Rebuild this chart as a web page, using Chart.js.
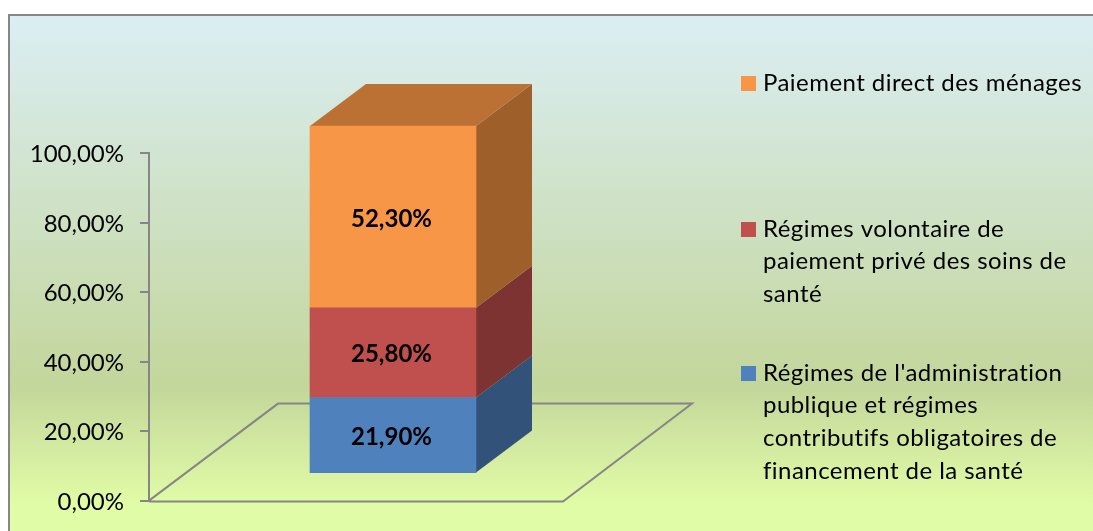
<!DOCTYPE html>
<html lang="fr">
<head>
<meta charset="utf-8">
<title>Financement de la santé</title>
<script src="https://cdn.jsdelivr.net/npm/chart.js@4"></script>
<style>
  html, body { margin: 0; background: #fff; overflow: hidden; }
  canvas { display: block; }
</style>
</head>
<body>
<canvas id="chart" width="1093" height="531"></canvas>
<script>
const categories = ['Financement'];
const blueValues   = [21.9];
const redValues    = [25.8];
const orangeValues = [52.3];
const blueName   = ["Régimes de l'administration", 'publique et régimes', 'contributifs obligatoires de', 'financement de la santé'];
const redName    = ['Régimes volontaire de', 'paiement privé des soins de', 'santé'];
const orangeName = ['Paiement direct des ménages'];

const FONT = 'Lato, Carlito, sans-serif';
const AXIS = '#868686';
const DEPTH_X = 56, DEPTH_Y = 42;   // depth of the 3D box
const LIFT = 27;                    // box stands inside the floor, not on its front edge

const fmt = v => v.toFixed(2).replace('.', ',') + '%';

function poly(ctx, pts, fill) {
  ctx.beginPath();
  pts.forEach((p, i) => i ? ctx.lineTo(p[0], p[1]) : ctx.moveTo(p[0], p[1]));
  ctx.closePath();
  ctx.fillStyle = fill;
  ctx.fill();
}

// ── Card background ───────────────────────────────────────────────────────────
const cardPlugin = {
  id: 'card',
  beforeDraw(chart) {
    const { ctx, width, height } = chart;
    const g = ctx.createLinearGradient(0, 15, 0, 505);
    g.addColorStop(0, '#dbeef4');
    g.addColorStop(0.755, '#c3d69b');
    g.addColorStop(1, '#e1fca6');
    ctx.save();
    ctx.fillStyle = g;
    ctx.fillRect(9, 15, width - 9, height - 15);
    ctx.fillStyle = AXIS;
    ctx.fillRect(8, 14, width - 8, 2);
    ctx.fillRect(8, 14, 2, height - 14);
    ctx.restore();
  },
};

// ── Floor + side and top faces of the box ─────────────────────────────────────
const box3dPlugin = {
  id: 'box3d',
  beforeDatasetsDraw(chart) {
    const { ctx, scales: { y } } = chart;
    const x0 = y.right, y0 = y.getPixelForValue(0);

    // floor
    ctx.save();
    ctx.beginPath();
    ctx.moveTo(x0, y0);
    ctx.lineTo(x0 + 129, y0 - 97);
    ctx.lineTo(x0 + 543, y0 - 97);
    ctx.lineTo(x0 + 414, y0 + 1);
    ctx.lineTo(x0, y0 + 1);
    ctx.strokeStyle = AXIS;
    ctx.lineWidth = 2;
    ctx.stroke();

    // everything in the box sits LIFT px above the axis baseline
    ctx.translate(0, -LIFT);
    chart.data.datasets.forEach((ds, i) => {
      const bar = chart.getDatasetMeta(i).data[0];
      const r = bar.x + bar.width / 2, l = bar.x - bar.width / 2;
      poly(ctx, [[r, bar.base], [r + DEPTH_X, bar.base - DEPTH_Y], [r + DEPTH_X, bar.y - DEPTH_Y], [r, bar.y]], ds.sideColor);
      if (i === chart.data.datasets.length - 1) {
        poly(ctx, [[l, bar.y], [l + DEPTH_X, bar.y - DEPTH_Y], [r + DEPTH_X, bar.y - DEPTH_Y], [r, bar.y]], ds.topColor);
      }
    });
    // the front faces drawn by the library get the same shift
    ctx.restore();
    ctx.save();
    ctx.translate(0, -LIFT);
  },
  afterDatasetsDraw(chart) {
    const { ctx } = chart;
    ctx.restore();
    ctx.save();
    ctx.font = `bold 24px ${FONT}`;
    ctx.fillStyle = '#000';
    ctx.textAlign = 'center';
    ctx.textBaseline = 'middle';
    chart.data.datasets.forEach((ds, i) => {
      const bar = chart.getDatasetMeta(i).data[0];
      ctx.fillText(fmt(ds.data[0]), bar.x - 1.5, (bar.y + bar.base) / 2 - LIFT + 2);
    });
    ctx.restore();
  },
};

// ── Legend on the right ───────────────────────────────────────────────────────
const sideLegendPlugin = {
  id: 'sideLegend',
  afterDraw(chart) {
    const { ctx } = chart;
    const tops = [83, 229, 373];   // centre of first line of each entry
    const order = [2, 1, 0];
    ctx.save();
    ctx.font = `24px ${FONT}`;
    ctx.letterSpacing = '0.45px';
    ctx.textBaseline = 'middle';
    ctx.textAlign = 'left';
    order.forEach((dsIndex, n) => {
      const ds = chart.data.datasets[dsIndex];
      ctx.fillStyle = ds.backgroundColor;
      ctx.fillRect(741, tops[n] - 7, 15, 15);
      ctx.fillStyle = '#000';
      ds.label.forEach((line, k) => ctx.fillText(line, 763, tops[n] + k * 32.7));
    });
    ctx.restore();
  },
};

// ── Chart ─────────────────────────────────────────────────────────────────────
new Chart(document.getElementById('chart'), {
  type: 'bar',
  data: {
    labels: categories,
    datasets: [
      { label: blueName,   data: blueValues,   backgroundColor: '#4f81bd', sideColor: '#325279', clip: false },
      { label: redName,    data: redValues,    backgroundColor: '#c0504d', sideColor: '#7c3331', clip: false },
      { label: orangeName, data: orangeValues, backgroundColor: '#f79646', sideColor: '#9e5f2a', topColor: '#bb7134', clip: false },
    ],
  },
  options: {
    responsive: false,
    animation: false,
    devicePixelRatio: 1,
    layout: { padding: { top: 153, bottom: 30, left: 0, right: 456 } },
    datasets: { bar: { barThickness: 166 } },
    scales: {
      x: { stacked: true, display: false },
      y: {
        stacked: true,
        min: 0,
        max: 100,
        afterFit: s => { s.width = 149; },
        ticks: {
          stepSize: 20,
          color: '#000',
          padding: 16,
          labelOffset: 1.5,
          font: { family: FONT, size: 24 },
          callback: v => fmt(v),
        },
        grid: { drawOnChartArea: false, color: AXIS, tickLength: 9, lineWidth: 2 },
        border: { color: AXIS, width: 2 },
      },
    },
    plugins: { legend: { display: false }, tooltip: { enabled: false }, title: { display: false } },
  },
  plugins: [cardPlugin, box3dPlugin, sideLegendPlugin],
});
</script>
</body>
</html>
